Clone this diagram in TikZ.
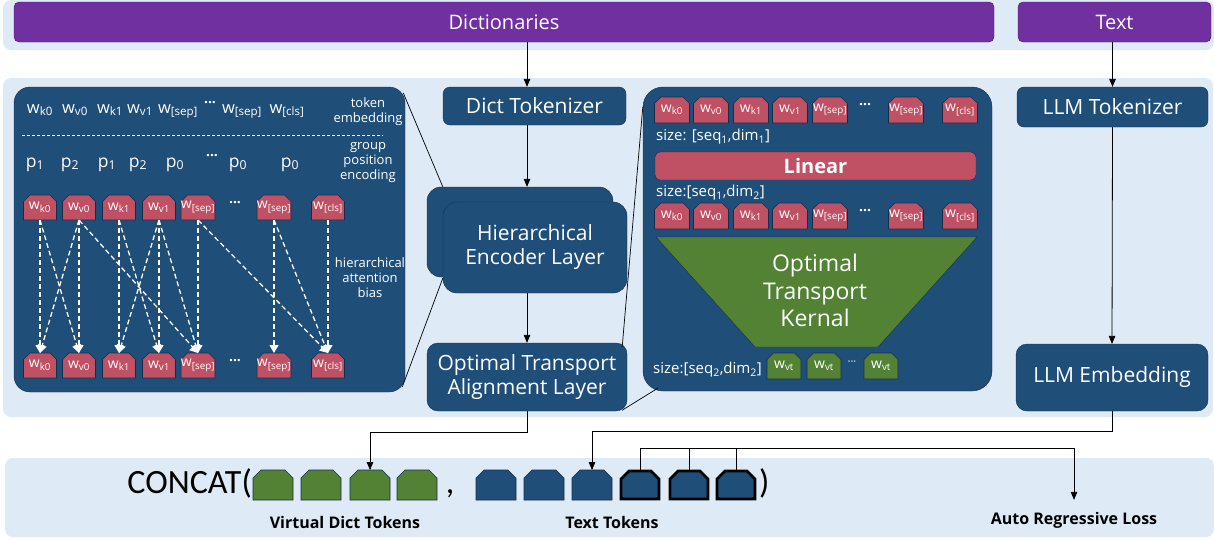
\documentclass[tikz,border=0pt]{standalone}
\usepackage{fontspec}
\setmainfont{Open Sans}
\newfontfamily\concatfont{Carlito}
\usepackage{tikz}
\usetikzlibrary{calc}
\usetikzlibrary{arrows}
\usetikzlibrary{arrows.meta}
\definecolor{bandblue}{RGB}{222,235,247}
\definecolor{dkblue}{RGB}{31,78,121}
\definecolor{dkline}{RGB}{20,45,75}
\definecolor{tokred}{RGB}{192,80,99}
\definecolor{tokgreen}{RGB}{84,130,53}
\definecolor{purp}{RGB}{112,48,160}
\tikzset{%
  myedge/.style={->, >=triangle 45, line width=0.8pt},
  myhab/.style={-{Triangle[width=9pt,length=8pt]}, white, dash pattern=on 5pt off 3pt, line width=1.3pt},
  myband/.style={fill=bandblue, rounded corners=8pt},
  mypanel/.style={rectangle, fill=dkblue, draw=dkline, rounded corners=16pt},
  mypurple/.style={rectangle, fill=purp, draw=purp!60!black, rounded corners=5pt, text=white,
    font=\fontsize{20}{23}\selectfont},
  mybox/.style={rectangle, fill=dkblue, draw=dkline, rounded corners=7pt, text=white,
    align=center, font=\fontsize{21}{24}\selectfont},
  tokbase/.style n args={4}{rectangle, inner sep=0pt, outer sep=0pt, text=white,
    append after command={\pgfextra{%
      \filldraw[fill=#1, draw=#2, line width=#3, line join=miter]
        (\tikzlastnode.south west) -- ([yshift=-#4]\tikzlastnode.north west)
        -- ([xshift=#4]\tikzlastnode.north west) -- ([xshift=-#4]\tikzlastnode.north east)
        -- ([yshift=-#4]\tikzlastnode.north east) -- (\tikzlastnode.south east) -- cycle;}}},
  mytok/.style={tokbase={#1}{dkline}{0.6pt}{6.5pt}, minimum width=33pt, minimum height=25pt,
    font=\fontsize{14}{16}\selectfont},
  mytok/.default=tokred,
  mybig/.style={tokbase={#1}{dkline}{0.6pt}{8pt}, minimum width=40pt, minimum height=30pt},
  mybig/.default=dkblue,
  mylast/.style={tokbase={dkblue}{black}{2.6pt}{8pt}, minimum width=38pt, minimum height=28pt},
  myemb/.style={text=white, inner sep=0pt, anchor=base, font=\fontsize{16.5}{19}\selectfont},
  mydots/.style={text=white, inner sep=0pt, font=\bfseries\fontsize{14}{14}\selectfont},
  mynote/.style={text=white, align=center, inner sep=0pt, font=\fontsize{13}{15}\selectfont},
  mysize/.style={text=white, anchor=west, inner sep=0pt, font=\fontsize{15}{18}\selectfont},
  mylabel/.style={inner sep=0pt, font=\bfseries\fontsize{16}{19}\selectfont}
}

\begin{document}
\begin{tikzpicture}[x=1pt,y=-1pt]
  \useasboundingbox (0,0) rectangle (1214,539);
  \fill[myband] (3,0) rectangle (1214,50);
  \fill[myband] (3,78) rectangle (1213,417);
  \fill[myband] (5,458) rectangle (1214,537);

  % inputs
  \node[mypurple, minimum width=980pt, minimum height=40pt] (dict) at (504,22) {Dictionaries};
  \node[mypurple, minimum width=193pt, minimum height=40pt] (text) at (1114.5,22) {Text};

  % dictionary branch
  \coordinate (ax) at (527,0);
  \node[mybox, minimum width=183pt, minimum height=38pt] (dtok) at (534.5,106) {Dict Tokenizer};
  \node[mybox, minimum width=186pt, minimum height=90pt, rounded corners=14pt] (hencB) at (520,232) {};
  \node[mybox, minimum width=184pt, minimum height=91pt, rounded corners=14pt] (hencF) at (535,247.5) {Hierarchical\\Encoder Layer};
  \node[mybox, minimum width=200pt, minimum height=68pt, rounded corners=11pt] (otal) at (527,377) {Optimal Transport\\Alignment Layer};

  % text branch
  \node[mybox, minimum width=191pt, minimum height=40pt] (ltok) at (1112.5,107) {LLM Tokenizer};
  \node[mybox, minimum width=192pt, minimum height=67pt, rounded corners=11pt] (lemb) at (1112,377.5) {LLM Embedding};

  % encoder detail
  \node[mypanel, minimum width=391pt, minimum height=305pt] (enc) at (209.5,239.5) {};
  \foreach \n/\x/\lab in {1/40/k0, 2/75/v0, 3/110/k1, 4/140/v1, 5/178/[sep], 7/242/[sep], 8/287/[cls]}
    \node[myemb] (e\n) at (\x,113) {w\textsubscript{\lab}};
  \node[mydots] (e6) at (210,104) {···};
  \draw[white, dash pattern=on 3pt off 2pt, line width=0.8pt] (22,135) -- (383,135);
  \foreach \n/\x/\lab in {1/35/1, 2/70/2, 3/107/1, 4/138/2, 5/175/0, 7/238/0, 8/290/0}
    \node[myemb, font=\fontsize{17.5}{20}\selectfont] (p\n) at (\x,167) {p\textsubscript{\lab}};
  \node[mydots] (p6) at (212,157) {···};
  \foreach \n/\x/\lab in {1/40/k0, 2/79/v0, 3/119/k1, 4/159/v1, 5/198/[sep], 6/274/[sep], 7/328/[cls]} {
    \node[mytok] (a\n) at (\x,207.5) {w\textsubscript{\lab}};
    \node[mytok] (b\n) at (\x,365.5) {w\textsubscript{\lab}};
  }
  \node[mydots] (adots) at (235,204) {···};
  \node[mydots] (bdots) at (235,362) {···};
  \foreach \s/\t in {1/1,1/2,2/1,2/2,2/5,3/3,3/4,4/3,4/4,4/5,5/5,5/7,6/6,6/7,7/7}
    \draw[myhab] (a\s.south) -- (b\t.north);
  \node[mynote] (ntok) at (368,112) {token\\embedding};
  \node[mynote] (ngrp) at (368,163) {group\\position\\encoding};
  \node[mynote] (nhab) at (370,278) {hierarchical\\attention\\bias};

  % alignment detail
  \node[mypanel, minimum width=349pt, minimum height=304pt, rounded corners=20pt] (rbox) at (817.5,239) {};
  \foreach \n/\x/\lab in {1/672/k0, 2/711/v0, 3/751/k1, 4/790/v1, 5/830/[sep], 6/906/[sep], 7/960/[cls]} {
    \node[mytok, minimum width=35pt, minimum height=26pt] (c\n) at (\x,110) {w\textsubscript{\lab}};
    \node[mytok, minimum width=35pt, minimum height=26pt] (d\n) at (\x,216) {w\textsubscript{\lab}};
  }
  \node[mydots] (cdots) at (865,106) {···};
  \node[mydots] (ddots) at (865,212) {···};
  \node[mysize] (sz1) at (656,137) {size: [seq\textsubscript{1},dim\textsubscript{1}]};
  \node[rectangle, fill=tokred, draw=dkline, rounded corners=5pt, minimum width=321pt, minimum height=28pt,
    text=white, font=\bfseries\fontsize{20}{24}\selectfont] (lin) at (815.5,166) {Linear};
  \node[mysize] (sz2) at (656,193) {size:[seq\textsubscript{1},dim\textsubscript{2}]};
  \filldraw[fill=tokgreen, draw=dkline] (656,237) -- (977,237) -- (878,347) -- (755,347) -- cycle;
  \node[mynote, font=\fontsize{23}{27.5}\selectfont] (kern) at (815,290.5) {Optimal\\Transport\\Kernal};
  \node[mysize] (sz3) at (653,370) {size:[seq\textsubscript{2},dim\textsubscript{2}]};
  \foreach \n/\x in {1/784, 2/824, 3/881}
    \node[mytok=tokgreen, minimum width=34pt, minimum height=26pt] (v\n) at (\x,366) {w\textsubscript{vt}};
  \node[mydots, font=\fontsize{11}{11}\selectfont] (vdots) at (852,363) {···};

  % zoom lines
  \draw[line width=0.7pt] ($(enc.north east)+(-2,6)$) -- ($(hencB.north west)+(16,0)$);
  \draw[line width=0.7pt] ($(enc.south east)+(-3,-5)$) -- ($(hencF.south west)+(0,-15)$);
  \draw[line width=0.7pt] ($(otal.north east)+(-5,4)$) -- ($(rbox.north west)+(0,20)$);
  \draw[line width=0.7pt] ($(otal.south east)+(-5,-1)$) -- ($(rbox.south west)+(15,-3)$);

  % arrows
  \draw[myedge] (dict.south -| ax) -- (dtok.north -| ax);
  \draw[myedge] (dtok.south -| ax) -- (hencB.north -| ax);
  \draw[myedge] (hencF.south -| ax) -- (otal.north -| ax);
  \draw[myedge] (text.south -| ltok) -- (ltok.north);
  \draw[myedge] (ltok.south) -- (lemb.north);

  % concatenated sequence
  \node[anchor=base east, inner sep=0pt, font=\concatfont\fontsize{34}{40}\selectfont] (concat) at (252,493) {CONCAT(};
  \foreach \n/\x in {1/273, 2/321, 3/370, 4/417}
    \node[mybig=tokgreen] (g\n) at (\x,485) {};
  \node[anchor=base, inner sep=0pt, font=\concatfont\fontsize{34}{40}\selectfont] (comma) at (450,493) {,};
  \foreach \n/\x in {1/496, 2/544, 3/592}
    \node[mybig] (t\n) at (\x,485) {};
  \foreach \n/\x in {4/640, 5/689, 6/736}
    \node[mylast] (t\n) at (\x,485) {};
  \node[anchor=base west, inner sep=0pt, font=\concatfont\fontsize{34}{40}\selectfont] (close) at (759,493) {)};
  \node[mylabel] (vdt) at (345,522) {Virtual Dict Tokens};
  \node[mylabel] (ttk) at (612,522) {Text Tokens};
  \node[mylabel] (arl) at (1074,520) {Auto Regressive Loss};

  \draw[myedge] (otal.south -| ax) -- ++(0,21) -| (g3.north);
  \draw[myedge] (lemb.south) -- ++(0,20) -| (t3.north);
  \coordinate (brk) at ($(t4.north)+(0,-23)$);
  \draw[myedge, shorten >=12pt] (t4.north) -- (brk) -| (arl.north);
  \draw[line width=0.8pt] (t5.north) -- (t5.north |- brk);
  \draw[line width=0.8pt] (t6.north) -- (t6.north |- brk);
\end{tikzpicture}
\end{document}
